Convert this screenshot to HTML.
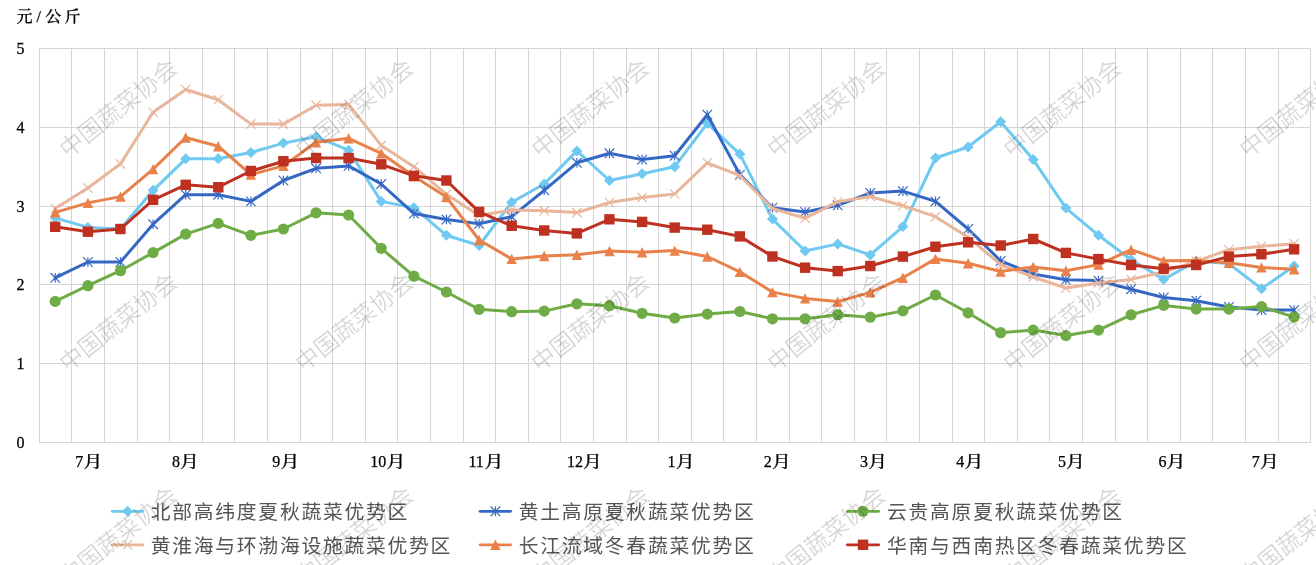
<!DOCTYPE html>
<html lang="zh-CN">
<head>
<meta charset="utf-8">
<title>蔬菜优势区价格走势</title>
<style>
html,body{margin:0;padding:0;background:#fff;}
body{width:1316px;height:565px;overflow:hidden;}
svg{display:block;}
.ax{font-family:"Liberation Serif","Noto Serif CJK SC",serif;font-size:16px;font-weight:500;fill:#000;stroke:#000;stroke-width:0.25px;}
.lg{font-family:"Liberation Sans","Noto Sans CJK SC",sans-serif;font-size:19.8px;letter-spacing:1.75px;font-weight:400;fill:#555;}
.wm{font-family:"Liberation Sans","Noto Sans CJK SC",sans-serif;font-size:23.7px;font-weight:350;fill:#000;fill-opacity:0.165;}
</style>
</head>
<body>
<svg width="1316" height="565" viewBox="0 0 1316 565">
<rect x="0" y="0" width="1316" height="565" fill="#fff"/>
<path d="M39 442.5H1311M39 363.5H1311M39 284.5H1311M39 206.5H1311M39 127.5H1311M39 48.5H1311M39.5 48V443M71.5 48V443M104.5 48V443M137.5 48V443M169.5 48V443M202.5 48V443M234.5 48V443M267.5 48V443M300.5 48V443M332.5 48V443M365.5 48V443M397.5 48V443M430.5 48V443M463.5 48V443M495.5 48V443M528.5 48V443M560.5 48V443M593.5 48V443M626.5 48V443M658.5 48V443M691.5 48V443M723.5 48V443M756.5 48V443M789.5 48V443M821.5 48V443M854.5 48V443M886.5 48V443M919.5 48V443M952.5 48V443M984.5 48V443M1017.5 48V443M1049.5 48V443M1082.5 48V443M1115.5 48V443M1147.5 48V443M1180.5 48V443M1212.5 48V443M1245.5 48V443M1278.5 48V443M1310.5 48V443" stroke="#D5D5D5" stroke-width="1" fill="none" shape-rendering="crispEdges"/>
<text class="ax" transform="translate(20.5 447.9) scale(1 1.08)" x="0" y="0" text-anchor="middle">0</text>
<text class="ax" transform="translate(20.5 369.1) scale(1 1.08)" x="0" y="0" text-anchor="middle">1</text>
<text class="ax" transform="translate(20.5 290.3) scale(1 1.08)" x="0" y="0" text-anchor="middle">2</text>
<text class="ax" transform="translate(20.5 211.5) scale(1 1.08)" x="0" y="0" text-anchor="middle">3</text>
<text class="ax" transform="translate(20.5 132.7) scale(1 1.08)" x="0" y="0" text-anchor="middle">4</text>
<text class="ax" transform="translate(20.5 53.9) scale(1 1.08)" x="0" y="0" text-anchor="middle">5</text>
<text class="ax" y="21.6"><tspan x="16.5">元</tspan><tspan x="36.6">/</tspan><tspan x="45.3">公</tspan><tspan x="64.4">斤</tspan></text>
<text class="ax" x="75.2" y="467">7</text><text class="ax" transform="translate(83.4 467) scale(1.18 1)" x="0" y="0">月</text>
<text class="ax" x="171.9" y="467">8</text><text class="ax" transform="translate(180.1 467) scale(1.18 1)" x="0" y="0">月</text>
<text class="ax" x="272.3" y="467">9</text><text class="ax" transform="translate(280.5 467) scale(1.18 1)" x="0" y="0">月</text>
<text class="ax" x="370.3" y="467">10</text><text class="ax" transform="translate(386.5 467) scale(1.18 1)" x="0" y="0">月</text>
<text class="ax" x="468.4" y="467">11</text><text class="ax" transform="translate(484.6 467) scale(1.18 1)" x="0" y="0">月</text>
<text class="ax" x="566.9" y="467">12</text><text class="ax" transform="translate(583.1 467) scale(1.18 1)" x="0" y="0">月</text>
<text class="ax" x="667.5" y="467">1</text><text class="ax" transform="translate(675.7 467) scale(1.18 1)" x="0" y="0">月</text>
<text class="ax" x="763.8" y="467">2</text><text class="ax" transform="translate(772.0 467) scale(1.18 1)" x="0" y="0">月</text>
<text class="ax" x="860.1" y="467">3</text><text class="ax" transform="translate(868.3 467) scale(1.18 1)" x="0" y="0">月</text>
<text class="ax" x="956.3" y="467">4</text><text class="ax" transform="translate(964.5 467) scale(1.18 1)" x="0" y="0">月</text>
<text class="ax" x="1057.9" y="467">5</text><text class="ax" transform="translate(1066.1 467) scale(1.18 1)" x="0" y="0">月</text>
<text class="ax" x="1158.4" y="467">6</text><text class="ax" transform="translate(1166.6 467) scale(1.18 1)" x="0" y="0">月</text>
<text class="ax" x="1251.7" y="467">7</text><text class="ax" transform="translate(1259.9 467) scale(1.18 1)" x="0" y="0">月</text>
<g><polyline points="55.2,217.9 87.9,227.4 120.5,229.0 153.1,190.3 185.7,158.8 218.2,158.8 250.9,152.5 283.4,143.1 316.1,136.8 348.6,150.2 381.2,201.4 413.9,207.7 446.4,235.3 479.1,245.5 511.7,202.2 544.2,184.0 576.9,150.9 609.5,180.5 642.1,173.8 674.7,166.7 707.3,123.4 739.9,154.1 772.5,219.1 805.1,251.0 837.7,243.9 870.3,255.0 902.9,226.6 935.5,158.0 968.1,147.0 1000.7,121.8 1033.2,159.6 1065.9,208.1 1098.5,235.3 1131.1,259.7 1163.7,279.4 1196.2,261.3 1228.9,263.6 1261.5,288.8 1294.1,266.0" fill="none" stroke="#6FC9F0" stroke-width="3.0" stroke-linejoin="round" stroke-linecap="round"/><path d="M55.2 212.4L60.8 217.9L55.2 223.4L49.8 217.9Z" fill="#6FC9F0"/><path d="M87.9 221.9L93.4 227.4L87.9 232.9L82.4 227.4Z" fill="#6FC9F0"/><path d="M120.5 223.5L126.0 229.0L120.5 234.5L115.0 229.0Z" fill="#6FC9F0"/><path d="M153.1 184.8L158.6 190.3L153.1 195.8L147.6 190.3Z" fill="#6FC9F0"/><path d="M185.7 153.3L191.2 158.8L185.7 164.3L180.2 158.8Z" fill="#6FC9F0"/><path d="M218.2 153.3L223.8 158.8L218.2 164.3L212.8 158.8Z" fill="#6FC9F0"/><path d="M250.9 147.0L256.4 152.5L250.9 158.0L245.4 152.5Z" fill="#6FC9F0"/><path d="M283.4 137.6L288.9 143.1L283.4 148.6L277.9 143.1Z" fill="#6FC9F0"/><path d="M316.1 131.3L321.6 136.8L316.1 142.3L310.6 136.8Z" fill="#6FC9F0"/><path d="M348.6 144.7L354.1 150.2L348.6 155.7L343.1 150.2Z" fill="#6FC9F0"/><path d="M381.2 195.9L386.8 201.4L381.2 206.9L375.8 201.4Z" fill="#6FC9F0"/><path d="M413.9 202.2L419.4 207.7L413.9 213.2L408.4 207.7Z" fill="#6FC9F0"/><path d="M446.4 229.8L451.9 235.3L446.4 240.8L440.9 235.3Z" fill="#6FC9F0"/><path d="M479.1 240.0L484.6 245.5L479.1 251.0L473.6 245.5Z" fill="#6FC9F0"/><path d="M511.7 196.7L517.2 202.2L511.7 207.7L506.2 202.2Z" fill="#6FC9F0"/><path d="M544.2 178.5L549.8 184.0L544.2 189.5L538.8 184.0Z" fill="#6FC9F0"/><path d="M576.9 145.4L582.4 150.9L576.9 156.4L571.4 150.9Z" fill="#6FC9F0"/><path d="M609.5 175.0L615.0 180.5L609.5 186.0L604.0 180.5Z" fill="#6FC9F0"/><path d="M642.1 168.3L647.6 173.8L642.1 179.3L636.6 173.8Z" fill="#6FC9F0"/><path d="M674.7 161.2L680.2 166.7L674.7 172.2L669.2 166.7Z" fill="#6FC9F0"/><path d="M707.3 117.9L712.8 123.4L707.3 128.9L701.8 123.4Z" fill="#6FC9F0"/><path d="M739.9 148.6L745.4 154.1L739.9 159.6L734.4 154.1Z" fill="#6FC9F0"/><path d="M772.5 213.6L778.0 219.1L772.5 224.6L767.0 219.1Z" fill="#6FC9F0"/><path d="M805.1 245.5L810.6 251.0L805.1 256.5L799.6 251.0Z" fill="#6FC9F0"/><path d="M837.7 238.4L843.2 243.9L837.7 249.4L832.2 243.9Z" fill="#6FC9F0"/><path d="M870.3 249.5L875.8 255.0L870.3 260.5L864.8 255.0Z" fill="#6FC9F0"/><path d="M902.9 221.1L908.4 226.6L902.9 232.1L897.4 226.6Z" fill="#6FC9F0"/><path d="M935.5 152.5L941.0 158.0L935.5 163.5L930.0 158.0Z" fill="#6FC9F0"/><path d="M968.1 141.5L973.6 147.0L968.1 152.5L962.6 147.0Z" fill="#6FC9F0"/><path d="M1000.7 116.3L1006.2 121.8L1000.7 127.3L995.2 121.8Z" fill="#6FC9F0"/><path d="M1033.2 154.1L1038.8 159.6L1033.2 165.1L1027.8 159.6Z" fill="#6FC9F0"/><path d="M1065.9 202.6L1071.4 208.1L1065.9 213.6L1060.4 208.1Z" fill="#6FC9F0"/><path d="M1098.5 229.8L1104.0 235.3L1098.5 240.8L1093.0 235.3Z" fill="#6FC9F0"/><path d="M1131.1 254.2L1136.6 259.7L1131.1 265.2L1125.6 259.7Z" fill="#6FC9F0"/><path d="M1163.7 273.9L1169.2 279.4L1163.7 284.9L1158.2 279.4Z" fill="#6FC9F0"/><path d="M1196.2 255.8L1201.8 261.3L1196.2 266.8L1190.8 261.3Z" fill="#6FC9F0"/><path d="M1228.9 258.1L1234.4 263.6L1228.9 269.1L1223.4 263.6Z" fill="#6FC9F0"/><path d="M1261.5 283.3L1267.0 288.8L1261.5 294.3L1256.0 288.8Z" fill="#6FC9F0"/><path d="M1294.1 260.5L1299.6 266.0L1294.1 271.5L1288.6 266.0Z" fill="#6FC9F0"/></g>
<g><polyline points="55.2,277.8 87.9,262.0 120.5,262.0 153.1,224.2 185.7,194.7 218.2,194.7 250.9,201.4 283.4,180.5 316.1,168.3 348.6,165.9 381.2,184.0 413.9,213.6 446.4,219.5 479.1,223.8 511.7,216.7 544.2,190.3 576.9,162.8 609.5,153.3 642.1,159.6 674.7,155.7 707.3,114.7 739.9,174.6 772.5,207.7 805.1,212.0 837.7,205.3 870.3,193.0 902.9,191.1 935.5,201.4 968.1,229.0 1000.7,260.9 1033.2,273.9 1065.9,279.8 1098.5,280.6 1131.1,289.2 1163.7,297.5 1196.2,300.7 1228.9,307.0 1261.5,310.1 1294.1,310.1" fill="none" stroke="#3568C4" stroke-width="3.0" stroke-linejoin="round" stroke-linecap="round"/><path d="M50.5 273.0L60.0 282.6M50.5 282.6L60.0 273.0M55.2 273.0L55.2 282.6" stroke="#3568C4" stroke-width="1.2" fill="none"/><path d="M83.1 257.2L92.7 266.8M83.1 266.8L92.7 257.2M87.9 257.2L87.9 266.8" stroke="#3568C4" stroke-width="1.2" fill="none"/><path d="M115.7 257.2L125.2 266.8M115.7 266.8L125.2 257.2M120.5 257.2L120.5 266.8" stroke="#3568C4" stroke-width="1.2" fill="none"/><path d="M148.2 219.4L157.9 229.0M148.2 229.0L157.9 219.4M153.1 219.4L153.1 229.0" stroke="#3568C4" stroke-width="1.2" fill="none"/><path d="M180.9 189.9L190.5 199.5M180.9 199.5L190.5 189.9M185.7 189.9L185.7 199.5" stroke="#3568C4" stroke-width="1.2" fill="none"/><path d="M213.4 189.9L223.1 199.5M213.4 199.5L223.1 189.9M218.2 189.9L218.2 199.5" stroke="#3568C4" stroke-width="1.2" fill="none"/><path d="M246.1 196.6L255.7 206.2M246.1 206.2L255.7 196.6M250.9 196.6L250.9 206.2" stroke="#3568C4" stroke-width="1.2" fill="none"/><path d="M278.6 175.7L288.2 185.3M278.6 185.3L288.2 175.7M283.4 175.7L283.4 185.3" stroke="#3568C4" stroke-width="1.2" fill="none"/><path d="M311.2 163.5L320.9 173.1M311.2 173.1L320.9 163.5M316.1 163.5L316.1 173.1" stroke="#3568C4" stroke-width="1.2" fill="none"/><path d="M343.8 161.1L353.4 170.7M343.8 170.7L353.4 161.1M348.6 161.1L348.6 170.7" stroke="#3568C4" stroke-width="1.2" fill="none"/><path d="M376.4 179.2L386.1 188.8M376.4 188.8L386.1 179.2M381.2 179.2L381.2 188.8" stroke="#3568C4" stroke-width="1.2" fill="none"/><path d="M409.1 208.8L418.7 218.4M409.1 218.4L418.7 208.8M413.9 208.8L413.9 218.4" stroke="#3568C4" stroke-width="1.2" fill="none"/><path d="M441.6 214.7L451.2 224.3M441.6 224.3L451.2 214.7M446.4 214.7L446.4 224.3" stroke="#3568C4" stroke-width="1.2" fill="none"/><path d="M474.2 219.0L483.9 228.6M474.2 228.6L483.9 219.0M479.1 219.0L479.1 228.6" stroke="#3568C4" stroke-width="1.2" fill="none"/><path d="M506.9 211.9L516.5 221.5M506.9 221.5L516.5 211.9M511.7 211.9L511.7 221.5" stroke="#3568C4" stroke-width="1.2" fill="none"/><path d="M539.5 185.5L549.0 195.1M539.5 195.1L549.0 185.5M544.2 185.5L544.2 195.1" stroke="#3568C4" stroke-width="1.2" fill="none"/><path d="M572.1 158.0L581.6 167.6M572.1 167.6L581.6 158.0M576.9 158.0L576.9 167.6" stroke="#3568C4" stroke-width="1.2" fill="none"/><path d="M604.7 148.5L614.2 158.1M604.7 158.1L614.2 148.5M609.5 148.5L609.5 158.1" stroke="#3568C4" stroke-width="1.2" fill="none"/><path d="M637.3 154.8L646.9 164.4M637.3 164.4L646.9 154.8M642.1 154.8L642.1 164.4" stroke="#3568C4" stroke-width="1.2" fill="none"/><path d="M669.9 150.9L679.5 160.5M669.9 160.5L679.5 150.9M674.7 150.9L674.7 160.5" stroke="#3568C4" stroke-width="1.2" fill="none"/><path d="M702.5 109.9L712.1 119.5M702.5 119.5L712.1 109.9M707.3 109.9L707.3 119.5" stroke="#3568C4" stroke-width="1.2" fill="none"/><path d="M735.1 169.8L744.6 179.4M735.1 179.4L744.6 169.8M739.9 169.8L739.9 179.4" stroke="#3568C4" stroke-width="1.2" fill="none"/><path d="M767.7 202.9L777.2 212.5M767.7 212.5L777.2 202.9M772.5 202.9L772.5 212.5" stroke="#3568C4" stroke-width="1.2" fill="none"/><path d="M800.3 207.2L809.9 216.8M800.3 216.8L809.9 207.2M805.1 207.2L805.1 216.8" stroke="#3568C4" stroke-width="1.2" fill="none"/><path d="M832.9 200.5L842.5 210.1M832.9 210.1L842.5 200.5M837.7 200.5L837.7 210.1" stroke="#3568C4" stroke-width="1.2" fill="none"/><path d="M865.5 188.2L875.1 197.8M865.5 197.8L875.1 188.2M870.3 188.2L870.3 197.8" stroke="#3568C4" stroke-width="1.2" fill="none"/><path d="M898.1 186.3L907.7 195.9M898.1 195.9L907.7 186.3M902.9 186.3L902.9 195.9" stroke="#3568C4" stroke-width="1.2" fill="none"/><path d="M930.7 196.6L940.2 206.2M930.7 206.2L940.2 196.6M935.5 196.6L935.5 206.2" stroke="#3568C4" stroke-width="1.2" fill="none"/><path d="M963.3 224.2L972.9 233.8M963.3 233.8L972.9 224.2M968.1 224.2L968.1 233.8" stroke="#3568C4" stroke-width="1.2" fill="none"/><path d="M995.9 256.1L1005.5 265.7M995.9 265.7L1005.5 256.1M1000.7 256.1L1000.7 265.7" stroke="#3568C4" stroke-width="1.2" fill="none"/><path d="M1028.5 269.1L1038.0 278.7M1028.5 278.7L1038.0 269.1M1033.2 269.1L1033.2 278.7" stroke="#3568C4" stroke-width="1.2" fill="none"/><path d="M1061.1 275.0L1070.7 284.6M1061.1 284.6L1070.7 275.0M1065.9 275.0L1065.9 284.6" stroke="#3568C4" stroke-width="1.2" fill="none"/><path d="M1093.7 275.8L1103.2 285.4M1093.7 285.4L1103.2 275.8M1098.5 275.8L1098.5 285.4" stroke="#3568C4" stroke-width="1.2" fill="none"/><path d="M1126.3 284.4L1135.9 294.0M1126.3 294.0L1135.9 284.4M1131.1 284.4L1131.1 294.0" stroke="#3568C4" stroke-width="1.2" fill="none"/><path d="M1158.9 292.7L1168.5 302.3M1158.9 302.3L1168.5 292.7M1163.7 292.7L1163.7 302.3" stroke="#3568C4" stroke-width="1.2" fill="none"/><path d="M1191.5 295.9L1201.0 305.5M1191.5 305.5L1201.0 295.9M1196.2 295.9L1196.2 305.5" stroke="#3568C4" stroke-width="1.2" fill="none"/><path d="M1224.1 302.2L1233.7 311.8M1224.1 311.8L1233.7 302.2M1228.9 302.2L1228.9 311.8" stroke="#3568C4" stroke-width="1.2" fill="none"/><path d="M1256.7 305.3L1266.2 314.9M1256.7 314.9L1266.2 305.3M1261.5 305.3L1261.5 314.9" stroke="#3568C4" stroke-width="1.2" fill="none"/><path d="M1289.3 305.3L1298.9 314.9M1289.3 314.9L1298.9 305.3M1294.1 305.3L1294.1 314.9" stroke="#3568C4" stroke-width="1.2" fill="none"/></g>
<g><polyline points="55.2,301.4 87.9,285.7 120.5,270.7 153.1,252.6 185.7,234.1 218.2,223.4 250.9,235.3 283.4,229.0 316.1,212.8 348.6,215.0 381.2,248.3 413.9,276.2 446.4,292.0 479.1,309.3 511.7,311.7 544.2,311.1 576.9,303.8 609.5,305.7 642.1,313.3 674.7,318.0 707.3,314.1 739.9,311.5 772.5,318.8 805.1,318.8 837.7,314.7 870.3,317.2 902.9,310.9 935.5,295.0 968.1,312.8 1000.7,332.7 1033.2,330.1 1065.9,335.6 1098.5,330.1 1131.1,314.8 1163.7,305.4 1196.2,309.1 1228.9,309.1 1261.5,306.6 1294.1,317.1" fill="none" stroke="#6FAC46" stroke-width="3.0" stroke-linejoin="round" stroke-linecap="round"/><circle cx="55.2" cy="301.4" r="5.6" fill="#6FAC46"/><circle cx="87.9" cy="285.7" r="5.6" fill="#6FAC46"/><circle cx="120.5" cy="270.7" r="5.6" fill="#6FAC46"/><circle cx="153.1" cy="252.6" r="5.6" fill="#6FAC46"/><circle cx="185.7" cy="234.1" r="5.6" fill="#6FAC46"/><circle cx="218.2" cy="223.4" r="5.6" fill="#6FAC46"/><circle cx="250.9" cy="235.3" r="5.6" fill="#6FAC46"/><circle cx="283.4" cy="229.0" r="5.6" fill="#6FAC46"/><circle cx="316.1" cy="212.8" r="5.6" fill="#6FAC46"/><circle cx="348.6" cy="215.0" r="5.6" fill="#6FAC46"/><circle cx="381.2" cy="248.3" r="5.6" fill="#6FAC46"/><circle cx="413.9" cy="276.2" r="5.6" fill="#6FAC46"/><circle cx="446.4" cy="292.0" r="5.6" fill="#6FAC46"/><circle cx="479.1" cy="309.3" r="5.6" fill="#6FAC46"/><circle cx="511.7" cy="311.7" r="5.6" fill="#6FAC46"/><circle cx="544.2" cy="311.1" r="5.6" fill="#6FAC46"/><circle cx="576.9" cy="303.8" r="5.6" fill="#6FAC46"/><circle cx="609.5" cy="305.7" r="5.6" fill="#6FAC46"/><circle cx="642.1" cy="313.3" r="5.6" fill="#6FAC46"/><circle cx="674.7" cy="318.0" r="5.6" fill="#6FAC46"/><circle cx="707.3" cy="314.1" r="5.6" fill="#6FAC46"/><circle cx="739.9" cy="311.5" r="5.6" fill="#6FAC46"/><circle cx="772.5" cy="318.8" r="5.6" fill="#6FAC46"/><circle cx="805.1" cy="318.8" r="5.6" fill="#6FAC46"/><circle cx="837.7" cy="314.7" r="5.6" fill="#6FAC46"/><circle cx="870.3" cy="317.2" r="5.6" fill="#6FAC46"/><circle cx="902.9" cy="310.9" r="5.6" fill="#6FAC46"/><circle cx="935.5" cy="295.0" r="5.6" fill="#6FAC46"/><circle cx="968.1" cy="312.8" r="5.6" fill="#6FAC46"/><circle cx="1000.7" cy="332.7" r="5.6" fill="#6FAC46"/><circle cx="1033.2" cy="330.1" r="5.6" fill="#6FAC46"/><circle cx="1065.9" cy="335.6" r="5.6" fill="#6FAC46"/><circle cx="1098.5" cy="330.1" r="5.6" fill="#6FAC46"/><circle cx="1131.1" cy="314.8" r="5.6" fill="#6FAC46"/><circle cx="1163.7" cy="305.4" r="5.6" fill="#6FAC46"/><circle cx="1196.2" cy="309.1" r="5.6" fill="#6FAC46"/><circle cx="1228.9" cy="309.1" r="5.6" fill="#6FAC46"/><circle cx="1261.5" cy="306.6" r="5.6" fill="#6FAC46"/><circle cx="1294.1" cy="317.1" r="5.6" fill="#6FAC46"/></g>
<g><polyline points="55.2,208.5 87.9,188.0 120.5,163.9 153.1,112.3 185.7,89.5 218.2,99.7 250.9,124.1 283.4,124.1 316.1,105.2 348.6,104.4 381.2,145.4 413.9,166.7 446.4,194.3 479.1,215.6 511.7,210.0 544.2,210.8 576.9,212.6 609.5,202.5 642.1,197.4 674.7,194.0 707.3,162.8 739.9,175.7 772.5,208.5 805.1,218.2 837.7,201.7 870.3,196.6 902.9,205.7 935.5,216.7 968.1,237.3 1000.7,264.6 1033.2,277.0 1065.9,288.1 1098.5,283.1 1131.1,279.4 1163.7,272.0 1196.2,261.3 1228.9,249.7 1261.5,246.3 1294.1,243.8" fill="none" stroke="#E9B59B" stroke-width="3.0" stroke-linejoin="round" stroke-linecap="round"/><path d="M50.6 203.9L59.9 213.1M50.6 213.1L59.9 203.9" stroke="#E9B59B" stroke-width="1.2" fill="none"/><path d="M83.3 183.4L92.5 192.6M83.3 192.6L92.5 183.4" stroke="#E9B59B" stroke-width="1.2" fill="none"/><path d="M115.9 159.3L125.0 168.5M115.9 168.5L125.0 159.3" stroke="#E9B59B" stroke-width="1.2" fill="none"/><path d="M148.5 107.7L157.7 116.9M148.5 116.9L157.7 107.7" stroke="#E9B59B" stroke-width="1.2" fill="none"/><path d="M181.1 84.9L190.3 94.1M181.1 94.1L190.3 84.9" stroke="#E9B59B" stroke-width="1.2" fill="none"/><path d="M213.7 95.1L222.8 104.3M213.7 104.3L222.8 95.1" stroke="#E9B59B" stroke-width="1.2" fill="none"/><path d="M246.3 119.5L255.5 128.7M246.3 128.7L255.5 119.5" stroke="#E9B59B" stroke-width="1.2" fill="none"/><path d="M278.8 119.5L288.1 128.7M278.8 128.7L288.1 119.5" stroke="#E9B59B" stroke-width="1.2" fill="none"/><path d="M311.4 100.6L320.7 109.8M311.4 109.8L320.7 100.6" stroke="#E9B59B" stroke-width="1.2" fill="none"/><path d="M344.0 99.8L353.2 109.0M344.0 109.0L353.2 99.8" stroke="#E9B59B" stroke-width="1.2" fill="none"/><path d="M376.6 140.8L385.9 150.0M376.6 150.0L385.9 140.8" stroke="#E9B59B" stroke-width="1.2" fill="none"/><path d="M409.2 162.1L418.5 171.3M409.2 171.3L418.5 162.1" stroke="#E9B59B" stroke-width="1.2" fill="none"/><path d="M441.8 189.7L451.1 198.9M441.8 198.9L451.1 189.7" stroke="#E9B59B" stroke-width="1.2" fill="none"/><path d="M474.4 211.0L483.7 220.2M474.4 220.2L483.7 211.0" stroke="#E9B59B" stroke-width="1.2" fill="none"/><path d="M507.1 205.4L516.2 214.6M507.1 214.6L516.2 205.4" stroke="#E9B59B" stroke-width="1.2" fill="none"/><path d="M539.6 206.2L548.9 215.4M539.6 215.4L548.9 206.2" stroke="#E9B59B" stroke-width="1.2" fill="none"/><path d="M572.2 208.0L581.5 217.2M572.2 217.2L581.5 208.0" stroke="#E9B59B" stroke-width="1.2" fill="none"/><path d="M604.9 197.9L614.1 207.1M604.9 207.1L614.1 197.9" stroke="#E9B59B" stroke-width="1.2" fill="none"/><path d="M637.5 192.8L646.7 202.0M637.5 202.0L646.7 192.8" stroke="#E9B59B" stroke-width="1.2" fill="none"/><path d="M670.1 189.4L679.3 198.6M670.1 198.6L679.3 189.4" stroke="#E9B59B" stroke-width="1.2" fill="none"/><path d="M702.7 158.2L711.9 167.4M702.7 167.4L711.9 158.2" stroke="#E9B59B" stroke-width="1.2" fill="none"/><path d="M735.2 171.1L744.5 180.3M735.2 180.3L744.5 171.1" stroke="#E9B59B" stroke-width="1.2" fill="none"/><path d="M767.9 203.9L777.1 213.1M767.9 213.1L777.1 203.9" stroke="#E9B59B" stroke-width="1.2" fill="none"/><path d="M800.5 213.6L809.7 222.8M800.5 222.8L809.7 213.6" stroke="#E9B59B" stroke-width="1.2" fill="none"/><path d="M833.1 197.1L842.3 206.3M833.1 206.3L842.3 197.1" stroke="#E9B59B" stroke-width="1.2" fill="none"/><path d="M865.7 192.0L874.9 201.2M865.7 201.2L874.9 192.0" stroke="#E9B59B" stroke-width="1.2" fill="none"/><path d="M898.3 201.1L907.5 210.3M898.3 210.3L907.5 201.1" stroke="#E9B59B" stroke-width="1.2" fill="none"/><path d="M930.9 212.1L940.1 221.3M930.9 221.3L940.1 212.1" stroke="#E9B59B" stroke-width="1.2" fill="none"/><path d="M963.5 232.7L972.7 241.9M963.5 241.9L972.7 232.7" stroke="#E9B59B" stroke-width="1.2" fill="none"/><path d="M996.1 260.0L1005.3 269.2M996.1 269.2L1005.3 260.0" stroke="#E9B59B" stroke-width="1.2" fill="none"/><path d="M1028.7 272.4L1037.8 281.6M1028.7 281.6L1037.8 272.4" stroke="#E9B59B" stroke-width="1.2" fill="none"/><path d="M1061.3 283.5L1070.5 292.7M1061.3 292.7L1070.5 283.5" stroke="#E9B59B" stroke-width="1.2" fill="none"/><path d="M1093.9 278.5L1103.0 287.7M1093.9 287.7L1103.0 278.5" stroke="#E9B59B" stroke-width="1.2" fill="none"/><path d="M1126.5 274.8L1135.7 284.0M1126.5 284.0L1135.7 274.8" stroke="#E9B59B" stroke-width="1.2" fill="none"/><path d="M1159.1 267.4L1168.2 276.6M1159.1 276.6L1168.2 267.4" stroke="#E9B59B" stroke-width="1.2" fill="none"/><path d="M1191.7 256.7L1200.8 265.9M1191.7 265.9L1200.8 256.7" stroke="#E9B59B" stroke-width="1.2" fill="none"/><path d="M1224.3 245.1L1233.5 254.3M1224.3 254.3L1233.5 245.1" stroke="#E9B59B" stroke-width="1.2" fill="none"/><path d="M1256.9 241.7L1266.0 250.9M1256.9 250.9L1266.0 241.7" stroke="#E9B59B" stroke-width="1.2" fill="none"/><path d="M1289.5 239.2L1298.7 248.4M1289.5 248.4L1298.7 239.2" stroke="#E9B59B" stroke-width="1.2" fill="none"/></g>
<g><polyline points="55.2,212.4 87.9,202.9 120.5,196.6 153.1,169.1 185.7,137.5 218.2,146.2 250.9,174.6 283.4,165.9 316.1,142.3 348.6,138.3 381.2,153.3 413.9,176.2 446.4,197.0 479.1,240.0 511.7,258.9 544.2,256.0 576.9,254.7 609.5,251.0 642.1,252.3 674.7,250.6 707.3,256.5 739.9,271.9 772.5,292.1 805.1,298.4 837.7,301.6 870.3,292.4 902.9,277.7 935.5,258.9 968.1,263.3 1000.7,271.5 1033.2,267.0 1065.9,270.7 1098.5,264.6 1131.1,249.7 1163.7,260.8 1196.2,260.5 1228.9,262.8 1261.5,267.4 1294.1,269.3" fill="none" stroke="#E9814A" stroke-width="3.0" stroke-linejoin="round" stroke-linecap="round"/><path d="M55.2 207.2L60.5 217.6L50.0 217.6Z" fill="#E9814A"/><path d="M87.9 197.7L93.1 208.1L82.7 208.1Z" fill="#E9814A"/><path d="M120.5 191.4L125.7 201.8L115.2 201.8Z" fill="#E9814A"/><path d="M153.1 163.9L158.2 174.3L147.9 174.3Z" fill="#E9814A"/><path d="M185.7 132.3L190.9 142.7L180.5 142.7Z" fill="#E9814A"/><path d="M218.2 141.0L223.4 151.4L213.1 151.4Z" fill="#E9814A"/><path d="M250.9 169.4L256.1 179.8L245.7 179.8Z" fill="#E9814A"/><path d="M283.4 160.7L288.6 171.1L278.2 171.1Z" fill="#E9814A"/><path d="M316.1 137.1L321.2 147.5L310.9 147.5Z" fill="#E9814A"/><path d="M348.6 133.1L353.8 143.5L343.4 143.5Z" fill="#E9814A"/><path d="M381.2 148.1L386.4 158.5L376.1 158.5Z" fill="#E9814A"/><path d="M413.9 171.0L419.1 181.4L408.7 181.4Z" fill="#E9814A"/><path d="M446.4 191.8L451.6 202.2L441.2 202.2Z" fill="#E9814A"/><path d="M479.1 234.8L484.2 245.2L473.9 245.2Z" fill="#E9814A"/><path d="M511.7 253.7L516.9 264.1L506.5 264.1Z" fill="#E9814A"/><path d="M544.2 250.8L549.5 261.2L539.0 261.2Z" fill="#E9814A"/><path d="M576.9 249.5L582.1 259.9L571.6 259.9Z" fill="#E9814A"/><path d="M609.5 245.8L614.7 256.2L604.2 256.2Z" fill="#E9814A"/><path d="M642.1 247.1L647.3 257.5L636.9 257.5Z" fill="#E9814A"/><path d="M674.7 245.4L679.9 255.8L669.5 255.8Z" fill="#E9814A"/><path d="M707.3 251.3L712.5 261.7L702.1 261.7Z" fill="#E9814A"/><path d="M739.9 266.7L745.1 277.1L734.6 277.1Z" fill="#E9814A"/><path d="M772.5 286.9L777.7 297.3L767.2 297.3Z" fill="#E9814A"/><path d="M805.1 293.2L810.3 303.6L799.9 303.6Z" fill="#E9814A"/><path d="M837.7 296.4L842.9 306.8L832.5 306.8Z" fill="#E9814A"/><path d="M870.3 287.2L875.5 297.6L865.1 297.6Z" fill="#E9814A"/><path d="M902.9 272.5L908.1 282.9L897.7 282.9Z" fill="#E9814A"/><path d="M935.5 253.7L940.7 264.1L930.2 264.1Z" fill="#E9814A"/><path d="M968.1 258.1L973.3 268.5L962.9 268.5Z" fill="#E9814A"/><path d="M1000.7 266.3L1005.9 276.7L995.5 276.7Z" fill="#E9814A"/><path d="M1033.2 261.8L1038.5 272.2L1028.0 272.2Z" fill="#E9814A"/><path d="M1065.9 265.5L1071.1 275.9L1060.7 275.9Z" fill="#E9814A"/><path d="M1098.5 259.4L1103.7 269.8L1093.2 269.8Z" fill="#E9814A"/><path d="M1131.1 244.5L1136.3 254.9L1125.9 254.9Z" fill="#E9814A"/><path d="M1163.7 255.6L1168.9 266.0L1158.5 266.0Z" fill="#E9814A"/><path d="M1196.2 255.3L1201.5 265.7L1191.0 265.7Z" fill="#E9814A"/><path d="M1228.9 257.6L1234.1 268.0L1223.7 268.0Z" fill="#E9814A"/><path d="M1261.5 262.2L1266.7 272.6L1256.2 272.6Z" fill="#E9814A"/><path d="M1294.1 264.1L1299.3 274.5L1288.9 274.5Z" fill="#E9814A"/></g>
<g><polyline points="55.2,226.8 87.9,231.7 120.5,229.0 153.1,199.8 185.7,184.8 218.2,187.2 250.9,171.0 283.4,161.2 316.1,158.0 348.6,158.0 381.2,164.3 413.9,175.8 446.4,180.5 479.1,211.9 511.7,225.8 544.2,230.5 576.9,233.4 609.5,219.3 642.1,221.9 674.7,227.6 707.3,229.7 739.9,236.4 772.5,256.5 805.1,267.7 837.7,271.1 870.3,266.0 902.9,256.6 935.5,246.7 968.1,242.3 1000.7,245.5 1033.2,239.0 1065.9,252.9 1098.5,259.1 1131.1,265.0 1163.7,268.7 1196.2,265.0 1228.9,256.6 1261.5,254.2 1294.1,249.3" fill="none" stroke="#BE3020" stroke-width="3.0" stroke-linejoin="round" stroke-linecap="round"/><rect x="50.0" y="221.6" width="10.4" height="10.4" fill="#BE3020"/><rect x="82.7" y="226.5" width="10.4" height="10.4" fill="#BE3020"/><rect x="115.2" y="223.8" width="10.4" height="10.4" fill="#BE3020"/><rect x="147.9" y="194.6" width="10.4" height="10.4" fill="#BE3020"/><rect x="180.5" y="179.6" width="10.4" height="10.4" fill="#BE3020"/><rect x="213.1" y="182.0" width="10.4" height="10.4" fill="#BE3020"/><rect x="245.7" y="165.8" width="10.4" height="10.4" fill="#BE3020"/><rect x="278.2" y="156.0" width="10.4" height="10.4" fill="#BE3020"/><rect x="310.9" y="152.8" width="10.4" height="10.4" fill="#BE3020"/><rect x="343.4" y="152.8" width="10.4" height="10.4" fill="#BE3020"/><rect x="376.1" y="159.1" width="10.4" height="10.4" fill="#BE3020"/><rect x="408.7" y="170.6" width="10.4" height="10.4" fill="#BE3020"/><rect x="441.2" y="175.3" width="10.4" height="10.4" fill="#BE3020"/><rect x="473.9" y="206.7" width="10.4" height="10.4" fill="#BE3020"/><rect x="506.5" y="220.6" width="10.4" height="10.4" fill="#BE3020"/><rect x="539.0" y="225.3" width="10.4" height="10.4" fill="#BE3020"/><rect x="571.6" y="228.2" width="10.4" height="10.4" fill="#BE3020"/><rect x="604.2" y="214.1" width="10.4" height="10.4" fill="#BE3020"/><rect x="636.9" y="216.7" width="10.4" height="10.4" fill="#BE3020"/><rect x="669.5" y="222.4" width="10.4" height="10.4" fill="#BE3020"/><rect x="702.1" y="224.5" width="10.4" height="10.4" fill="#BE3020"/><rect x="734.6" y="231.2" width="10.4" height="10.4" fill="#BE3020"/><rect x="767.2" y="251.3" width="10.4" height="10.4" fill="#BE3020"/><rect x="799.9" y="262.5" width="10.4" height="10.4" fill="#BE3020"/><rect x="832.5" y="265.9" width="10.4" height="10.4" fill="#BE3020"/><rect x="865.1" y="260.8" width="10.4" height="10.4" fill="#BE3020"/><rect x="897.7" y="251.4" width="10.4" height="10.4" fill="#BE3020"/><rect x="930.2" y="241.5" width="10.4" height="10.4" fill="#BE3020"/><rect x="962.9" y="237.1" width="10.4" height="10.4" fill="#BE3020"/><rect x="995.5" y="240.3" width="10.4" height="10.4" fill="#BE3020"/><rect x="1028.0" y="233.8" width="10.4" height="10.4" fill="#BE3020"/><rect x="1060.7" y="247.7" width="10.4" height="10.4" fill="#BE3020"/><rect x="1093.2" y="253.9" width="10.4" height="10.4" fill="#BE3020"/><rect x="1125.9" y="259.8" width="10.4" height="10.4" fill="#BE3020"/><rect x="1158.5" y="263.5" width="10.4" height="10.4" fill="#BE3020"/><rect x="1191.0" y="259.8" width="10.4" height="10.4" fill="#BE3020"/><rect x="1223.7" y="251.4" width="10.4" height="10.4" fill="#BE3020"/><rect x="1256.2" y="249.0" width="10.4" height="10.4" fill="#BE3020"/><rect x="1288.9" y="244.1" width="10.4" height="10.4" fill="#BE3020"/></g>
<path d="M112.3 511.3H142.9" stroke="#6FC9F0" stroke-width="2.8" stroke-linecap="round"/><path d="M127.6 505.8L133.1 511.3L127.6 516.8L122.1 511.3Z" fill="#6FC9F0"/><text class="lg" x="150.7" y="519.2">北部高纬度夏秋蔬菜优势区</text>
<path d="M480.1 511.3H510.6" stroke="#3568C4" stroke-width="2.8" stroke-linecap="round"/><path d="M490.6 506.5L500.2 516.1M490.6 516.1L500.2 506.5M495.4 506.5L495.4 516.1" stroke="#3568C4" stroke-width="1.2" fill="none"/><text class="lg" x="518.7" y="519.2">黄土高原夏秋蔬菜优势区</text>
<path d="M847.4 511.3H878.7" stroke="#6FAC46" stroke-width="2.8" stroke-linecap="round"/><circle cx="863.0" cy="511.3" r="5.6" fill="#6FAC46"/><text class="lg" x="887.0" y="519.2">云贵高原夏秋蔬菜优势区</text>
<path d="M112.3 544.8H142.9" stroke="#E9B59B" stroke-width="2.8" stroke-linecap="round"/><path d="M123.0 540.2L132.2 549.4M123.0 549.4L132.2 540.2" stroke="#E9B59B" stroke-width="1.2" fill="none"/><text class="lg" x="150.7" y="552.6">黄淮海与环渤海设施蔬菜优势区</text>
<path d="M480.1 544.8H510.6" stroke="#E9814A" stroke-width="2.8" stroke-linecap="round"/><path d="M495.4 539.6L500.6 550.0L490.2 550.0Z" fill="#E9814A"/><text class="lg" x="518.7" y="552.6">长江流域冬春蔬菜优势区</text>
<path d="M847.4 544.8H878.7" stroke="#BE3020" stroke-width="2.8" stroke-linecap="round"/><rect x="857.8" y="539.6" width="10.4" height="10.4" fill="#BE3020"/><text class="lg" x="887.0" y="552.6">华南与西南热区冬春蔬菜优势区</text>
<g class="wm" text-anchor="middle">
<text transform="translate(118.3 108.2) rotate(-38.3)" x="0" y="8.5">中国蔬菜协会</text>
<text transform="translate(354.3 108.2) rotate(-38.3)" x="0" y="8.5">中国蔬菜协会</text>
<text transform="translate(590.3 108.2) rotate(-38.3)" x="0" y="8.5">中国蔬菜协会</text>
<text transform="translate(826.3 108.2) rotate(-38.3)" x="0" y="8.5">中国蔬菜协会</text>
<text transform="translate(1062.3 108.2) rotate(-38.3)" x="0" y="8.5">中国蔬菜协会</text>
<text transform="translate(1298.3 108.2) rotate(-38.3)" x="0" y="8.5">中国蔬菜协会</text>
<text transform="translate(118.3 322.2) rotate(-38.3)" x="0" y="8.5">中国蔬菜协会</text>
<text transform="translate(354.3 322.2) rotate(-38.3)" x="0" y="8.5">中国蔬菜协会</text>
<text transform="translate(590.3 322.2) rotate(-38.3)" x="0" y="8.5">中国蔬菜协会</text>
<text transform="translate(826.3 322.2) rotate(-38.3)" x="0" y="8.5">中国蔬菜协会</text>
<text transform="translate(1062.3 322.2) rotate(-38.3)" x="0" y="8.5">中国蔬菜协会</text>
<text transform="translate(1298.3 322.2) rotate(-38.3)" x="0" y="8.5">中国蔬菜协会</text>
<text transform="translate(118.3 535.6) rotate(-38.3)" x="0" y="8.5">中国蔬菜协会</text>
<text transform="translate(354.3 535.6) rotate(-38.3)" x="0" y="8.5">中国蔬菜协会</text>
<text transform="translate(590.3 535.6) rotate(-38.3)" x="0" y="8.5">中国蔬菜协会</text>
<text transform="translate(826.3 535.6) rotate(-38.3)" x="0" y="8.5">中国蔬菜协会</text>
<text transform="translate(1062.3 535.6) rotate(-38.3)" x="0" y="8.5">中国蔬菜协会</text>
<text transform="translate(1298.3 535.6) rotate(-38.3)" x="0" y="8.5">中国蔬菜协会</text>
</g>
</svg>
</body>
</html>
